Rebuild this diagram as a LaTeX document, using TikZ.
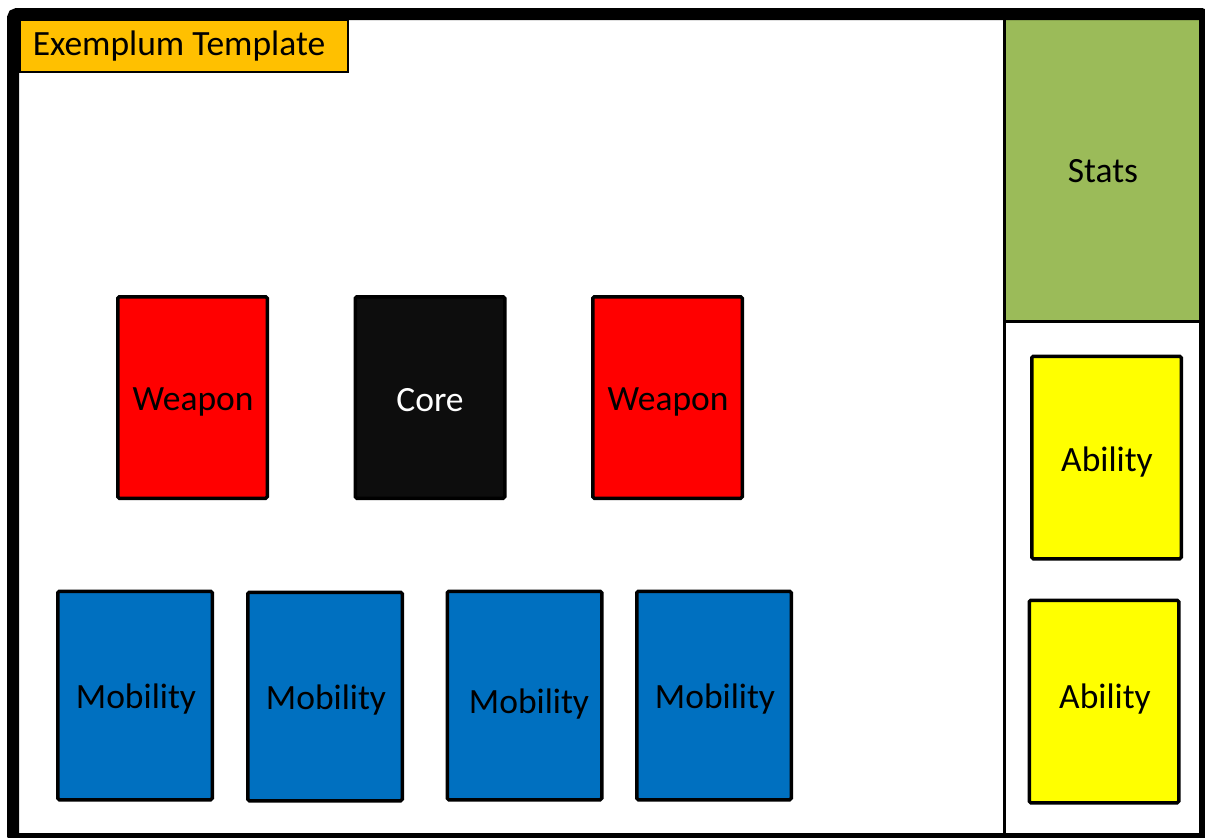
\documentclass[tikz,border=0pt]{standalone}
\usepackage{fontspec}
\setmainfont{Carlito}
\definecolor{cwep}{HTML}{FF0000}
\definecolor{ccore}{HTML}{0D0D0D}
\definecolor{cmob}{HTML}{0070C0}
\definecolor{cabil}{HTML}{FFFF00}
\definecolor{cstat}{HTML}{9BBB59}
\definecolor{ctitle}{HTML}{FFC000}
\begin{document}
\begin{tikzpicture}[x=1pt,y=-1pt,
  card/.style={draw=black, line width=3.5pt, rounded corners=1.5pt, inner sep=0pt, minimum width=149.5pt, minimum height=201.5pt},
  mob/.style={card, fill=cmob, minimum width=154.5pt, minimum height=208.5pt},
  abil/.style={card, fill=cabil, minimum width=149.5pt, minimum height=202.5pt},
  lbl/.style={inner sep=0pt, font=\fontsize{35.5}{42}\selectfont}
]
\useasboundingbox (0,0) rectangle (1205,838);
\clip (0,0) rectangle (1205,838);
\fill[white] (0,0) rectangle (1205,838);
% right column
\fill[cstat] (1004,19) rectangle (1199,321);
\draw[line width=3pt] (1004,19) -- (1004,838);
\draw[line width=3pt] (1004,321) -- (1205,321);
\node[lbl] (tstat) at (1103,171) {Stats};
% title
\node[draw=black, line width=1.5pt, fill=ctitle, inner sep=0pt, minimum width=328pt, minimum height=52pt, anchor=north west] (title) at (19,19) {};
\node[lbl] (ttitle) at (179,46) {Exemplum Template};
% weapons and core
\node[card, fill=cwep] (w1) at (192.5,397.5) {};
\node[card, fill=ccore] (core) at (430,397.5) {};
\node[card, fill=cwep] (w2) at (667.5,397.5) {};
\node[lbl] (tw1) at (193,402) {Weapon};
\node[lbl, text=white] (tcore) at (430,400) {Core};
\node[lbl] (tw2) at (668,402) {Weapon};
% mobility
\node[mob] (m1) at (135,695.5) {};
\node[mob] (m2) at (325,696.5) {};
\node[mob] (m3) at (524.5,695.5) {};
\node[mob] (m4) at (714,695.5) {};
\node[lbl] (tm1) at (136,699) {Mobility};
\node[lbl] (tm2) at (326,700) {Mobility};
\node[lbl] (tm3) at (529,704) {Mobility};
\node[lbl] (tm4) at (715,699) {Mobility};
% abilities
\node[abil] (a1) at (1106.5,457.5) {};
\node[abil] (a2) at (1104,701.5) {};
\node[lbl] (ta1) at (1107,462) {Ability};
\node[lbl] (ta2) at (1105,699) {Ability};
% outer frame
\draw[line width=12pt, rounded corners=4pt] (13,14) rectangle (1205,839);
\end{tikzpicture}
\end{document}
